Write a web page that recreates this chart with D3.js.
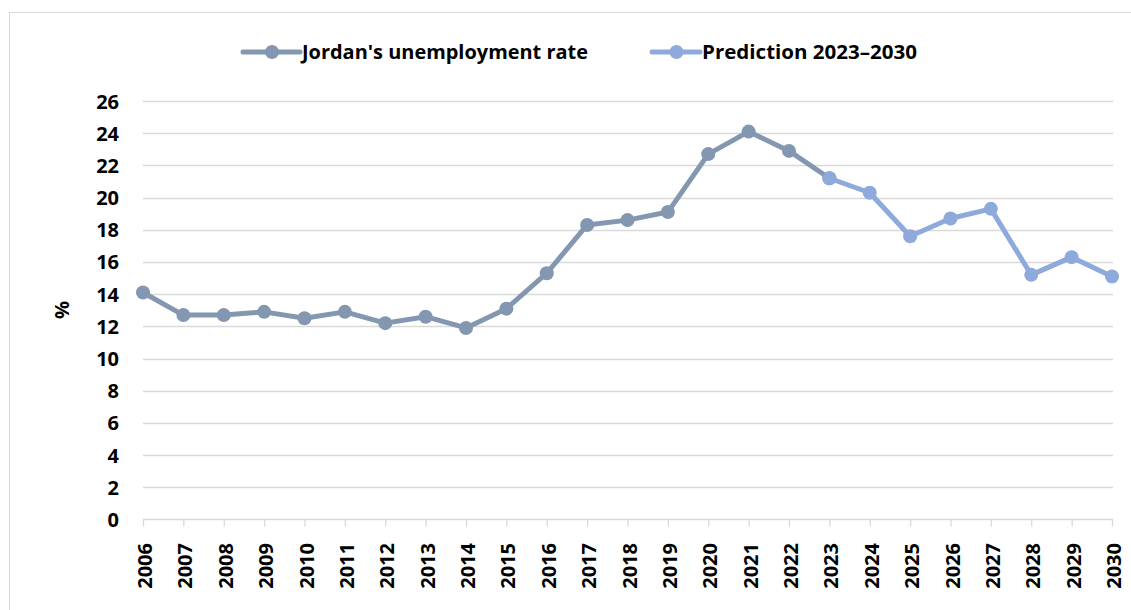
<!DOCTYPE html>
<html lang="en">
<head>
<meta charset="utf-8">
<title>Jordan's unemployment rate</title>
<script src="https://d3js.org/d3.v7.min.js"></script>
<style>
  body { margin: 0; background: #fff; }
  text { font-family: "Open Sans", "Liberation Sans", sans-serif; font-weight: bold; fill: #000; }
</style>
</head>
<body>
<script>
// data
var years = ["2006","2007","2008","2009","2010","2011","2012","2013","2014","2015","2016","2017","2018",
             "2019","2020","2021","2022","2023","2024","2025","2026","2027","2028","2029","2030"];
var actualYears = years.slice(0, 18);
var actualRates = [14.1, 12.7, 12.7, 12.9, 12.5, 12.9, 12.2, 12.6, 11.9, 13.1, 15.3, 18.3, 18.6,
                   19.1, 22.7, 24.1, 22.9, 21.2];
var predYears = years.slice(17);
var predRates = [21.2, 20.3, 17.6, 18.7, 19.3, 15.2, 16.3, 15.1];
var yTicks = [0, 2, 4, 6, 8, 10, 12, 14, 16, 18, 20, 22, 24, 26];
var seriesNames = ["Jordan's unemployment rate", "Prediction 2023\u20132030"];
var seriesColors = ["#8497B0", "#8EA9DB"];

var W = 1131, H = 610;
var svg = d3.select("body").append("svg").attr("width", W).attr("height", H);

// chart frame
svg.append("rect").attr("x", 9.5).attr("y", 12.5).attr("width", 1140).attr("height", 620)
  .attr("fill", "none").attr("stroke", "#D9D9D9");

var x = d3.scalePoint().domain(years).range([143, 1112]);
var y = d3.scaleLinear().domain([0, 26]).range([519.5, 101]);

// grid
svg.append("g").selectAll("line").data(yTicks.filter(function(d) { return d > 0; })).enter()
  .append("line")
  .attr("x1", 143).attr("x2", 1113)
  .attr("y1", function(d) { return Math.round(y(d)) + 0.5; })
  .attr("y2", function(d) { return Math.round(y(d)) + 0.5; })
  .attr("stroke", "#D9D9D9").attr("stroke-width", 1.3);

// y labels
svg.append("g").selectAll("text").data(yTicks).enter()
  .append("text")
  .attr("x", 119).attr("y", function(d) { return y(d) + 0.5; })
  .attr("dy", "0.35em").attr("text-anchor", "end")
  .style("font-size", "20px")
  .text(function(d) { return d; });

svg.append("text")
  .attr("transform", "translate(69,310) rotate(-90)")
  .attr("text-anchor", "middle")
  .style("font-size", "20px")
  .text("%");

// x axis
var xAxis = d3.axisBottom(x).tickSize(7).tickSizeOuter(0).tickFormat("");
var gx = svg.append("g").attr("transform", "translate(0,519.5)").call(xAxis);
gx.select(".domain").attr("stroke", "#D9D9D9").attr("stroke-width", 1.3).attr("d", "M143,0H1113");
gx.selectAll(".tick line").attr("stroke", "#D9D9D9").attr("stroke-width", 1.3);

svg.append("g").selectAll("text").data(years).enter()
  .append("text")
  .attr("transform", function(d) { return "translate(" + (x(d) + 9) + ",543) rotate(-90)"; })
  .attr("text-anchor", "end")
  .style("font-size", "20px")
  .text(function(d) { return d; });

// lines
var line = d3.line()
  .x(function(d) { return x(d.year); })
  .y(function(d) { return y(d.value); });

var series = [
  actualYears.map(function(yr, i) { return { year: yr, value: actualRates[i] }; }),
  predYears.map(function(yr, i) { return { year: yr, value: predRates[i] }; })
];

series.forEach(function(s, i) {
  svg.append("path").datum(s)
    .attr("d", line)
    .attr("fill", "none")
    .attr("stroke", seriesColors[i])
    .attr("stroke-width", 5)
    .attr("stroke-linejoin", "round");
  svg.append("g").selectAll("circle").data(s).enter()
    .append("circle")
    .attr("cx", function(d) { return x(d.year); })
    .attr("cy", function(d) { return y(d.value); })
    .attr("r", 7)
    .attr("fill", seriesColors[i]);
});

// legend
var legend = [
  { x0: 243, x1: 300, tx: 302, tw: 286 },
  { x0: 652, x1: 700, tx: 702, tw: 215 }
];
legend.forEach(function(l, i) {
  var g = svg.append("g");
  g.append("line").attr("x1", l.x0).attr("x2", l.x1).attr("y1", 52).attr("y2", 52)
    .attr("stroke", seriesColors[i]).attr("stroke-width", 5).attr("stroke-linecap", "round");
  g.append("circle").attr("cx", (l.x0 + l.x1) / 2 + 0.5).attr("cy", 52).attr("r", 7)
    .attr("fill", seriesColors[i]);
  g.append("text").attr("x", l.tx).attr("y", 52).attr("dy", "0.35em")
    .style("font-size", "20px")
    .attr("textLength", l.tw).attr("lengthAdjust", "spacingAndGlyphs")
    .text(seriesNames[i]);
});
</script>
</body>
</html>
